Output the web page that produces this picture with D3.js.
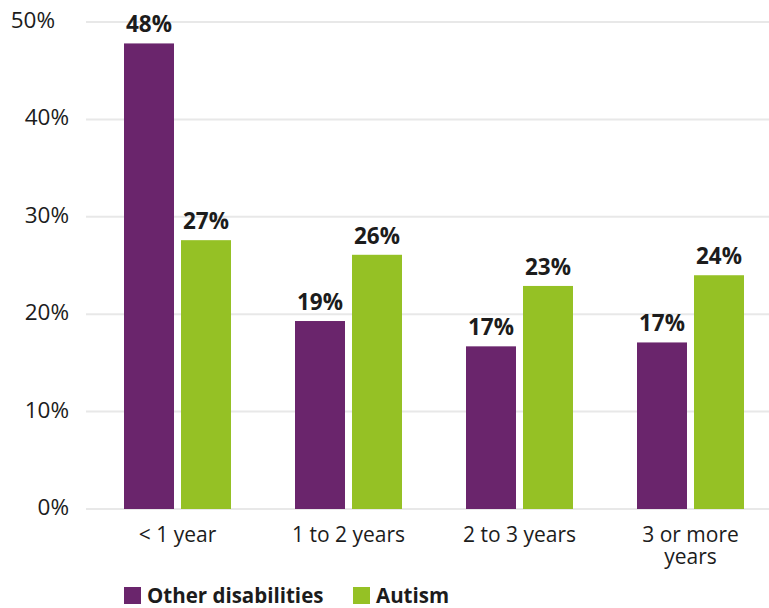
<!DOCTYPE html>
<html><head><meta charset="utf-8">
<script src="https://cdn.jsdelivr.net/npm/d3@7"></script>
<style>
body{margin:0;background:#fff;}
text{font-family:"Open Sans",sans-serif;fill:#1c1c1c;}
.cat{font-family:"Open Sans",sans-serif;color:#1c1c1c;font-size:21px;line-height:22px;text-align:center;white-space:pre-line;margin:0;}
</style></head>
<body><svg id="c" width="769" height="608"></svg>
<script>
const categories = [["< 1 year"], ["1 to 2 years"], ["2 to 3 years"], ["3 or more", "years"]];
const seriesNames = ["Other disabilities", "Autism"];
const otherValues = [47.8, 19.3, 16.7, 17.1];
const autismValues = [27.6, 26.1, 22.9, 24.0];
const otherLabels = ["48%", "19%", "17%", "17%"];
const autismLabels = ["27%", "26%", "23%", "24%"];
const yTicks = [0, 10, 20, 30, 40, 50];
const colors = ["#6a256c", "#95c125"];

const svg = d3.select("#c");
const y = d3.scaleLinear().domain([0, 50]).range([509, 22]);
const catKeys = categories.map(c => c.join(" "));
const x0 = d3.scaleBand().domain(catKeys).range([92, 776]);
const groupW = 107;
const x1 = d3.scaleBand().domain(seriesNames).range([0, groupW]).paddingInner(0.123);

// gridlines
svg.append("g").selectAll("line").data(yTicks).join("line")
  .attr("x1", 86).attr("x2", 769)
  .attr("y1", d => y(d)).attr("y2", d => y(d))
  .attr("stroke", "#e8e8e8").attr("stroke-width", 2);

const yAxis = d3.axisLeft(y).tickValues(yTicks).tickFormat(d => d + "%").tickSize(0).tickPadding(0);
const ya = svg.append("g").attr("transform", "translate(69,0)").call(yAxis);
ya.select(".domain").remove();
ya.selectAll("text").attr("font-size", 22.5).attr("font-family", "Open Sans, sans-serif")
  .attr("fill", "#1c1c1c").attr("dy", "0.24em")
  .attr("x", d => d === d3.max(yTicks) ? -14 : 0);

const data = catKeys.map((k, i) => ({k, vals: [
  {s: seriesNames[0], v: otherValues[i], l: otherLabels[i]},
  {s: seriesNames[1], v: autismValues[i], l: autismLabels[i]}]}));

const g = svg.selectAll("g.grp").data(data).join("g").attr("class", "grp")
  .attr("transform", d => `translate(${x0(d.k) + (x0.bandwidth() - groupW) / 2},0)`);
g.selectAll("rect").data(d => d.vals).join("rect")
  .attr("x", d => x1(d.s)).attr("width", x1.bandwidth())
  .attr("y", d => y(d.v)).attr("height", d => y(0) - y(d.v))
  .attr("fill", (d, i) => colors[i]);
g.selectAll("text.lbl").data(d => d.vals).join("text").attr("class", "lbl")
  .attr("x", d => x1(d.s) + x1.bandwidth() / 2).attr("y", d => y(d.v) - 11)
  .attr("text-anchor", "middle").attr("font-size", 22.5).attr("font-weight", "bold")
  .text(d => d.l);

// category labels (wrapped text blocks)
const catW = 140;
svg.append("g").selectAll("foreignObject").data(categories).join("foreignObject")
  .attr("x", (d, i) => x0(catKeys[i]) + x0.bandwidth() / 2 - catW / 2)
  .attr("y", 523).attr("width", catW).attr("height", 60)
  .append("xhtml:div").attr("class", "cat")
  .text(d => d.join("\n"));

// legend
const legX = [124, 353];
const lg = svg.append("g").selectAll("g").data(seriesNames).join("g")
  .attr("transform", (d, i) => `translate(${legX[i]},587)`);
lg.append("rect").attr("width", 17).attr("height", 17).attr("fill", (d, i) => colors[i]);
lg.append("text").attr("x", 23).attr("y", 16).attr("font-size", 20.5).attr("font-weight", "bold").text(d => d);
</script></body></html>
